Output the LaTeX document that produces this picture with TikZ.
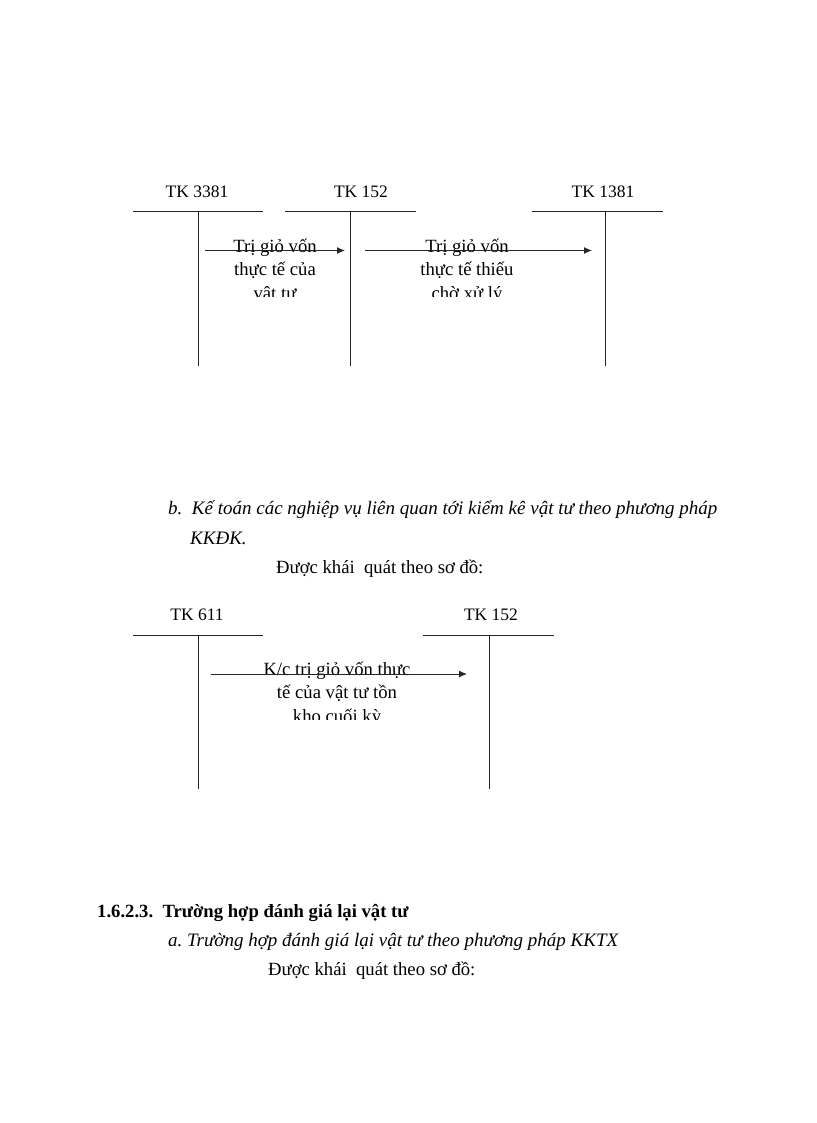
\documentclass[tikz,border=0pt]{standalone}
\usepackage{fontspec}
\setmainfont{Liberation Serif}
\usetikzlibrary{arrows.meta}
\tikzset{
  acct/.style={anchor=base,inner sep=0pt,font=\fontsize{17.5}{20}\selectfont},
  tline/.style={line width=1pt,draw=black!85},
  flow/.style={line width=1pt,draw=black!85,-{Latex[length=8pt,width=7pt]}},
  lbl/.style={anchor=base,inner sep=0pt,font=\fontsize{18.67}{22}\selectfont},
  para/.style={anchor=base west,inner sep=0pt,font=\fontsize{18.67}{22}\selectfont},
  ipara/.style={anchor=base west,inner sep=0pt,font=\fontsize{19}{22}\selectfont\itshape},
  bpara/.style={anchor=base west,inner sep=0pt,font=\fontsize{18.67}{22}\selectfont\bfseries}
}
\begin{document}
\begin{tikzpicture}[x=1pt,y=-1pt]
\useasboundingbox[fill=white] (0,0) rectangle (816,1123);
% ---- Diagram 1 ----
\node[acct] (a3381) at (197,197.3) {TK 3381};
\node[acct] (a152) at (361,197.3) {TK 152};
\node[acct] (a1381) at (603,197.3) {TK 1381};
\coordinate (h1l) at (133,212); \coordinate (h1r) at (263,212);
\coordinate (h2l) at (285,212); \coordinate (h2r) at (416,212);
\coordinate (h3l) at (532,212); \coordinate (h3r) at (663,212);
\coordinate (v1t) at (198.5,212); \coordinate (v1b) at (198.5,366);
\coordinate (v2t) at (350,212); \coordinate (v2b) at (350,366);
\coordinate (v3t) at (605,212); \coordinate (v3b) at (605,366);
\draw[tline] (h1l) -- (h1r); \draw[tline] (v1t) -- (v1b);
\draw[tline] (h2l) -- (h2r); \draw[tline] (v2t) -- (v2b);
\draw[tline] (h3l) -- (h3r); \draw[tline] (v3t) -- (v3b);
\begin{scope}
\clip (200,225) rectangle (600,296);
\node[lbl] (l1a) at (275,252) {Trị giỏ vốn};
\node[lbl] (l1b) at (275,275) {thực tế của};
\node[lbl] (l1c) at (275,299) {vật tư};
\node[lbl] (l2a) at (467,252) {Trị giỏ vốn};
\node[lbl] (l2b) at (467,275) {thực tế thiếu};
\node[lbl] (l2c) at (467,299) {chờ xử lý};
\end{scope}
\coordinate (f1s) at (205,250.5); \coordinate (f1e) at (345,250.5);
\coordinate (f2s) at (365,250.5); \coordinate (f2e) at (592,250.5);
\draw[flow] (f1s) -- (f1e);
\draw[flow] (f2s) -- (f2e);
% ---- Text ----
\node[ipara] (pb) at (168,514) {b.\ \ Kế toán các nghiệp vụ liên quan tới kiểm kê vật tư theo phương pháp};
\node[ipara] (pb2) at (190,544) {KKĐK.};
\node[para] (pd1) at (276,573) {Được khái\ \ quát theo sơ đồ:};
% ---- Diagram 2 ----
\node[acct] (a611) at (197,620) {TK 611};
\node[acct] (b152) at (491,620) {TK 152};
\coordinate (g1l) at (133,635); \coordinate (g1r) at (263,635);
\coordinate (g2l) at (423,635); \coordinate (g2r) at (554,635);
\coordinate (w1t) at (198.5,635); \coordinate (w1b) at (198.5,789);
\coordinate (w2t) at (489,635); \coordinate (w2b) at (489,789);
\draw[tline] (g1l) -- (g1r); \draw[tline] (w1t) -- (w1b);
\draw[tline] (g2l) -- (g2r); \draw[tline] (w2t) -- (w2b);
\begin{scope}
\clip (200,650) rectangle (480,719);
\node[lbl] (l3a) at (337,675) {K/c trị giỏ vốn thực};
\node[lbl] (l3b) at (337,698) {tế của vật tư tồn};
\node[lbl] (l3c) at (337,722) {kho cuối kỳ};
\end{scope}
\coordinate (f3s) at (211,674); \coordinate (f3e) at (467,674);
\draw[flow] (f3s) -- (f3e);
% ---- Bottom text ----
\node[bpara] (h) at (97,917) {1.6.2.3.\ \ Trường hợp đánh giá lại vật tư};
\node[ipara] (pa) at (168,946) {a.\ Trường hợp đánh giá lại vật tư theo phương pháp KKTX};
\node[para] (pd2) at (268,975) {Được khái\ \ quát theo sơ đồ:};
\end{tikzpicture}
\end{document}
